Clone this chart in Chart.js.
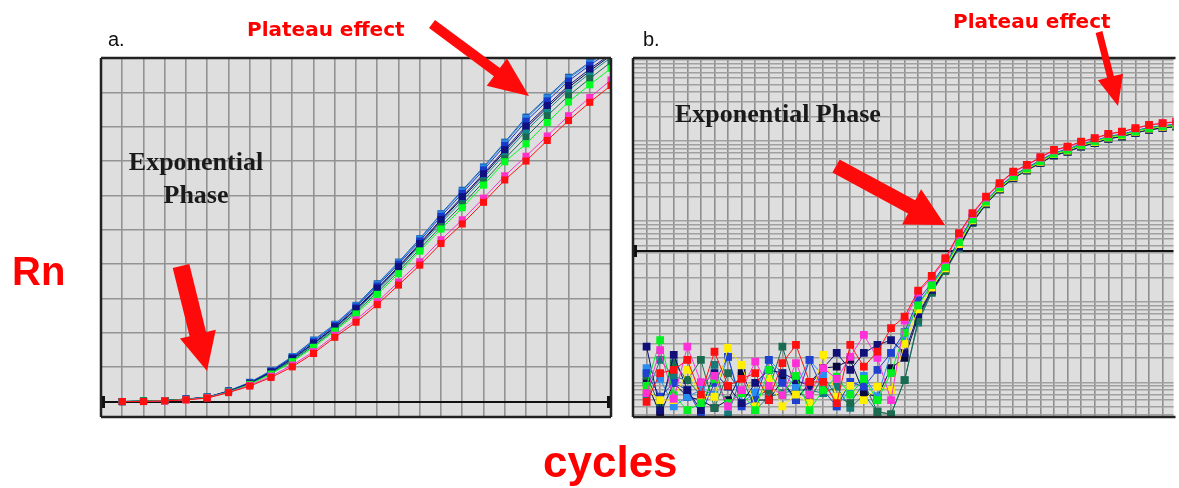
<!DOCTYPE html>
<html><head><meta charset="utf-8">
<script src="https://cdn.jsdelivr.net/npm/chart.js@4.4.0/dist/chart.umd.min.js"></script>
<style>
html,body{margin:0;padding:0;background:#fff;}
#wrap{position:relative;width:1179px;height:488px;overflow:hidden;background:#fff;}
canvas{position:absolute;left:0;top:0;}
svg{position:absolute;left:0;top:0;}
</style></head><body>
<div id="wrap">
<canvas id="ca" width="1179" height="488"></canvas>
<canvas id="cb" width="1179" height="488"></canvas>
<svg id="ov" width="1179" height="488" xmlns="http://www.w3.org/2000/svg">
  <text x="108" y="46" font-family="Liberation Sans, Arial" font-size="20" fill="#111">a.</text>
  <text x="643" y="46" font-family="Liberation Sans, Arial" font-size="20" fill="#111">b.</text>
  <text x="247" y="36" font-family="DejaVu Sans" font-weight="bold" font-size="20" fill="#ff0000">Plateau effect</text>
  <text x="953" y="28" font-family="DejaVu Sans" font-weight="bold" font-size="20" fill="#ff0000">Plateau effect</text>
  <text x="12" y="285" font-family="Liberation Sans, Arial" font-weight="bold" font-size="40" fill="#ff0000">Rn</text>
  <text x="543" y="477" font-family="Liberation Sans, Arial" font-weight="bold" font-size="44" fill="#ff0000">cycles</text>
  <text x="196" y="170" text-anchor="middle" font-family="Liberation Serif, Times New Roman" font-weight="bold" font-size="26" fill="#1a1a1a">Exponential</text>
  <text x="196" y="203" text-anchor="middle" font-family="Liberation Serif, Times New Roman" font-weight="bold" font-size="26" fill="#1a1a1a">Phase</text>
  <text x="675" y="122" font-family="Liberation Serif, Times New Roman" font-weight="bold" font-size="26" fill="#1a1a1a">Exponential Phase</text>
</svg>
</div>
<script>
// ---------- Panel a (linear Rn) ----------
const A_CYCLES = [1,2,3,4,5,6,7,8,9,10,11,12,13,14,15,16,17,18,19,20,21,22,23,24];
const A_RED       = [0.00,0.00,0.02,0.05,0.10,0.26,0.45,0.70,1.01,1.40,1.87,2.31,2.82,3.39,3.97,4.60,5.17,5.80,6.45,7.00,7.60,8.18,8.71,9.20];
const A_MAGENTA   = [0.00,0.00,0.02,0.05,0.11,0.27,0.47,0.74,1.06,1.45,1.93,2.38,2.90,3.48,4.07,4.71,5.29,5.92,6.57,7.14,7.73,8.32,8.85,9.36];
const A_GREEN     = [0.00,0.01,0.03,0.06,0.12,0.28,0.50,0.80,1.16,1.58,2.05,2.55,3.12,3.72,4.38,5.02,5.64,6.30,6.98,7.50,8.12,8.72,9.22,9.70];
const A_DARKGREEN = [0.00,0.01,0.03,0.06,0.12,0.29,0.51,0.82,1.19,1.62,2.09,2.60,3.18,3.79,4.44,5.10,5.73,6.39,7.07,7.70,8.32,8.90,9.40,9.88];
const A_TEAL      = [0.00,0.01,0.03,0.06,0.12,0.29,0.52,0.84,1.22,1.66,2.13,2.65,3.24,3.86,4.52,5.20,5.84,6.51,7.20,7.88,8.48,9.06,9.55,10.02];
const A_DARKNAVY  = [0.00,0.01,0.03,0.06,0.12,0.29,0.52,0.85,1.23,1.68,2.15,2.68,3.27,3.90,4.57,5.26,5.92,6.58,7.28,7.96,8.56,9.14,9.62,10.08];
const A_NAVY      = [0.00,0.01,0.03,0.07,0.12,0.30,0.53,0.86,1.25,1.70,2.17,2.70,3.30,3.93,4.60,5.30,5.96,6.63,7.33,8.02,8.62,9.20,9.68,10.12];
const A_BLUE      = [0.00,0.01,0.03,0.07,0.13,0.30,0.54,0.88,1.28,1.74,2.21,2.75,3.36,4.00,4.67,5.39,6.06,6.74,7.45,8.16,8.75,9.33,9.79,10.22];
const A_STEEL     = [0.00,0.01,0.03,0.07,0.13,0.30,0.55,0.89,1.30,1.77,2.24,2.78,3.40,4.04,4.72,5.45,6.12,6.80,7.52,8.24,8.83,9.40,9.85,10.28];
const A_TOP       = [0.00,0.01,0.03,0.07,0.13,0.31,0.56,0.90,1.31,1.79,2.25,2.80,3.43,4.06,4.74,5.47,6.15,6.83,7.55,8.28,8.86,9.44,9.88,10.32];
const A_X_GRID = [0,1,2,3,4,5,6,7,8,9,10,11,12,13,14,15,16,17,18,19,20,21,22,23,24];
const A_Y_GRID = [0,1,2,3,4,5,6,7,8,9,10];
const A_BASELINE = 0;

// ---------- Panel b (log Rn) ----------
const B_CYCLES = [1,2,3,4,5,6,7,8,9,10,11,12,13,14,15,16,17,18,19,20,21,22,23,24,25,26,27,28,29,30,31,32,33,34,35,36,37,38,39,40];
const B_RED       = [0.57,1.30,1.42,1.89,0.70,2.39,0.90,1.10,1.30,0.60,1.73,2.90,1.01,1.01,0.55,2.90,1.56,2.40,4.70,6.5,13.7,20.9,34.6,70.8,126,201,296,412,499,622,767,842,972,1072,1211,1294,1426,1567,1644,1720];
const B_MAGENTA   = [0.73,2.50,0.62,2.76,1.00,1.20,0.50,0.80,1.80,0.90,0.69,1.73,0.70,1.50,1.10,2.07,3.86,2.00,0.60,5.8,13.0,20.0,33.0,68,122,196,290,405,492,614,758,834,962,1062,1200,1283,1414,1555,1632,1708];
const B_NAVY      = [2.76,0.45,2.18,0.80,0.45,1.30,0.88,0.55,0.98,1.42,1.30,1.06,0.90,1.50,2.31,1.42,2.31,2.90,3.34,2.3,7.0,14,26,48,98,165,250,345,430,530,660,730,850,935,1060,1130,1250,1370,1440,1500];
const B_BLUE      = [1.30,0.66,0.98,0.80,0.40,0.98,2.07,0.50,0.60,1.89,0.98,0.60,1.89,0.80,0.50,1.01,0.88,1.42,2.31,4.2,10.5,17,29,58,110,180,268,372,458,570,705,780,905,995,1125,1200,1325,1455,1530,1600];
const B_STEEL     = [1.50,1.10,0.50,0.66,0.80,0.70,2.07,0.55,0.75,1.89,1.30,0.88,1.89,1.20,0.50,0.80,1.20,0.66,2.31,3.6,9.5,16,28,56,108,178,265,368,455,566,700,776,900,990,1120,1195,1320,1450,1525,1595];
const B_GREEN     = [0.90,3.34,0.69,0.45,0.55,1.10,0.55,0.73,0.45,1.42,0.69,1.20,0.45,0.80,1.17,0.70,1.10,0.60,1.30,4.1,9.0,16,27,55,105,175,262,362,448,556,690,766,888,978,1108,1182,1305,1432,1508,1578];
const B_DARKGREEN = [1.20,0.50,1.73,1.06,1.89,0.48,1.30,0.73,0.66,0.80,2.76,0.80,0.60,1.20,0.66,0.55,0.98,0.43,0.40,1.06,6.0,13,24,46,95,162,246,340,425,525,652,724,842,928,1050,1122,1242,1362,1432,1494];
const B_YELLOW    = [0.80,0.60,0.60,1.42,0.66,0.66,2.66,1.64,0.50,1.10,0.50,0.70,0.55,2.18,0.66,0.90,0.60,0.88,0.80,3.0,8.0,15,26,52,102,170,256,354,440,545,678,752,872,960,1088,1160,1282,1408,1482,1550];
const B_DARKNAVY  = [1.01,0.40,0.98,0.66,0.60,0.48,0.60,1.30,0.60,0.60,1.06,0.60,0.98,1.50,1.56,1.89,0.73,0.66,1.50,2.0,6.5,13.5,25,47,96,163,248,342,428,528,656,728,846,932,1055,1126,1246,1366,1436,1498];
const B_TEAL      = [0.70,1.89,1.17,1.06,0.69,1.64,0.40,1.20,0.45,0.66,0.73,0.80,0.80,0.73,0.88,0.48,0.70,0.43,0.40,1.06,5.5,13,25,50,100,168,254,350,436,540,670,745,865,952,1078,1150,1270,1395,1470,1538];
const B_X_GRID = [0,1,2,3,4,5,6,7,8,9,10,11,12,13,14,15,16,17,18,19,20,21,22,23,24,25,26,27,28,29,30,31,32,33,34,35,36,37,38,39];
const B_DECADES = [0.1,1,10,100,1000,10000];
const B_MANTISSAS = [1,2,3,4,5,6,7,8,9];
const B_THRESHOLD = 42;

const A_SERIES = [
  [A_RED,'#ff1010'],[A_MAGENTA,'#ff30c8'],[A_GREEN,'#00ff20'],[A_NAVY,'#101080'],
  [A_DARKGREEN,'#1a6a50'],[A_TEAL,'#138a8a'],[A_BLUE,'#1838c8'],[A_DARKNAVY,'#0a0a50'],
  [A_STEEL,'#2b86e0'],[A_TOP,'#1a5fb0']
];
const B_SERIES = [
  [B_RED,'#ff1010'],[B_MAGENTA,'#ff30d8'],[B_GREEN,'#00f020'],[B_YELLOW,'#ffee00'],
  [B_NAVY,'#101078'],[B_BLUE,'#2040d0'],[B_STEEL,'#2a8ef0'],[B_DARKGREEN,'#1b6b4f'],
  [B_DARKNAVY,'#0a0a40'],[B_TEAL,'#157a7a']
];

function makeDatasets(series, xs, radius){
  return series.map(([vals,col]) => ({
    data: xs.map((x,i)=>({x:x, y:vals[i]})),
    borderColor: col, backgroundColor: col, pointBackgroundColor: col,
    borderWidth: 1, pointRadius: radius, pointStyle: 'rect', pointBorderWidth: 0,
    tension: 0, fill: false
  }));
}

function framePlugin(sides, refValue){
  return {
    id: 'frame',
    beforeDraw(chart){
      const {ctx, chartArea:a} = chart;
      ctx.save(); ctx.fillStyle = '#dedede';
      ctx.fillRect(a.left, a.top, a.right-a.left, a.bottom-a.top); ctx.restore();
    },
    beforeDatasetsDraw(chart){
      const {ctx, chartArea:a} = chart;
      const y = Math.round(chart.scales.y.getPixelForValue(refValue));
      ctx.save(); ctx.strokeStyle = '#111'; ctx.lineWidth = 2;
      ctx.beginPath(); ctx.moveTo(a.left, y); ctx.lineTo(a.right, y); ctx.stroke();
      ctx.fillStyle = '#111';
      ctx.fillRect(a.left-1, y-6, 5, 12);
      if (sides.right) ctx.fillRect(a.right-4, y-6, 5, 12);
      ctx.restore();
    },
    afterDraw(chart){
      const {ctx, chartArea:a} = chart;
      ctx.save(); ctx.strokeStyle = '#222'; ctx.lineWidth = 2.5;
      ctx.beginPath();
      ctx.moveTo(a.left, a.top); ctx.lineTo(a.right + (sides.right?0:2), a.top);
      ctx.moveTo(a.left, a.bottom); ctx.lineTo(a.right + (sides.right?0:2), a.bottom);
      ctx.moveTo(a.left, a.top); ctx.lineTo(a.left, a.bottom);
      if (sides.right){ ctx.moveTo(a.right, a.top); ctx.lineTo(a.right, a.bottom); }
      ctx.stroke(); ctx.restore();
    }
  };
}

const hiddenTicks = {display:false};
new Chart(document.getElementById('ca'), {
  type: 'line',
  data: {datasets: makeDatasets(A_SERIES, A_CYCLES, 5)},
  options: {
    responsive:false, animation:false, devicePixelRatio:1,
    layout:{padding:{left:101, top:58, right:1179-611, bottom:488-417}},
    plugins:{legend:{display:false}, tooltip:{enabled:false}},
    scales:{
      x:{type:'linear', min:0, max:24, ticks:hiddenTicks, border:{display:false},
         grid:{color:'#939393', lineWidth:1.6, drawTicks:false},
         afterBuildTicks: s => { s.ticks = A_X_GRID.map(v=>({value:v})); }},
      y:{type:'linear', min:-0.45, max:10, ticks:hiddenTicks, border:{display:false},
         grid:{color:'#939393', lineWidth:1.6, drawTicks:false},
         afterBuildTicks: s => { s.ticks = A_Y_GRID.map(v=>({value:v})); }}
    }
  },
  plugins:[framePlugin({right:true}, A_BASELINE)]
});

new Chart(document.getElementById('cb'), {
  type: 'line',
  data: {datasets: makeDatasets(B_SERIES, B_CYCLES, 5.5)},
  options: {
    responsive:false, animation:false, devicePixelRatio:1,
    layout:{padding:{left:633, top:58, right:0, bottom:488-417}},
    plugins:{legend:{display:false}, tooltip:{enabled:false}},
    scales:{
      x:{type:'linear', min:0, max:39.8, ticks:hiddenTicks, border:{display:false},
         grid:{color:'#8e8e8e', lineWidth:1.6, drawTicks:false},
         afterBuildTicks: s => { s.ticks = B_X_GRID.map(v=>({value:v})); }},
      y:{type:'logarithmic', min:0.37, max:10600, ticks:hiddenTicks, border:{display:false},
         grid:{color:'#a0a0a0', lineWidth:1.4, drawTicks:false},
         afterBuildTicks: s => {
           const t = [];
           B_DECADES.forEach(d => B_MANTISSAS.forEach(m => { const v = d*m; if (v >= s.min && v <= s.max) t.push({value:v}); }));
           s.ticks = t;
         }}
    }
  },
  plugins:[framePlugin({right:false}, B_THRESHOLD)]
});

// ---------- Red annotation arrows ----------
const ARROWS = [
  [181,266,207,371,17,37,38],
  [432,24,529,96,10,34,40],
  [836,166,945,225,15,40,38],
  [1099,32,1118,106,7,26,30]
];
const ov = document.getElementById('ov');
ARROWS.forEach(([x1,y1,x2,y2,sw,hw,hl]) => {
  const dx=x2-x1, dy=y2-y1, L=Math.hypot(dx,dy), ux=dx/L, uy=dy/L, px=-uy, py=ux;
  const bx=x2-ux*hl, by=y2-uy*hl;
  const pts = [[x1+px*sw/2,y1+py*sw/2],[bx+px*sw/2,by+py*sw/2],[bx+px*hw/2,by+py*hw/2],[x2,y2],
               [bx-px*hw/2,by-py*hw/2],[bx-px*sw/2,by-py*sw/2],[x1-px*sw/2,y1-py*sw/2]];
  const p = document.createElementNS('http://www.w3.org/2000/svg','polygon');
  p.setAttribute('points', pts.map(q=>q[0].toFixed(1)+','+q[1].toFixed(1)).join(' '));
  p.setAttribute('fill', '#ff0a0a');
  ov.appendChild(p);
});
</script>
</body></html>
